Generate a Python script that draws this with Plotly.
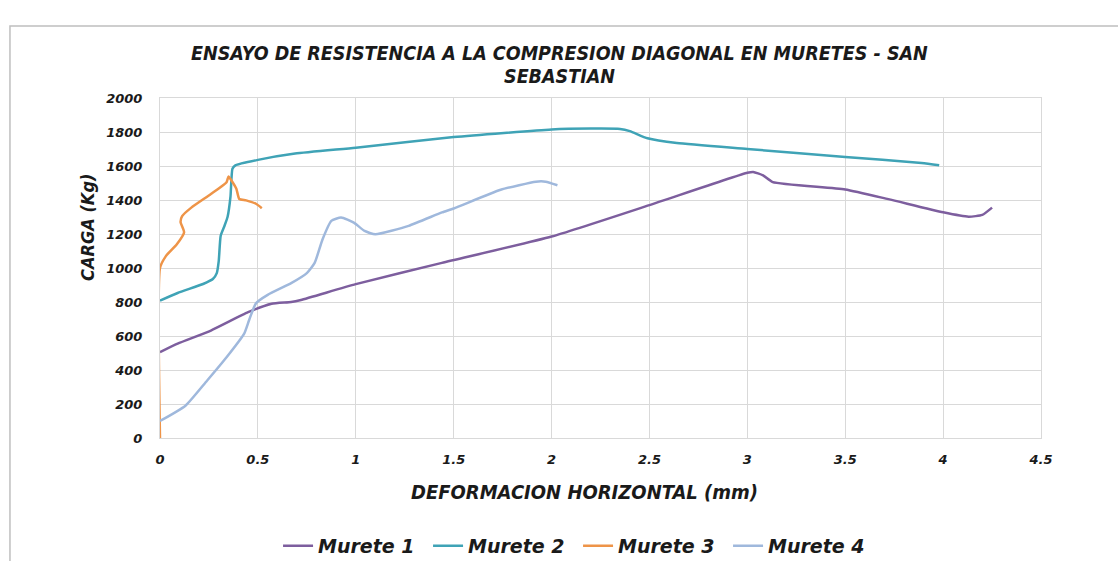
import plotly.graph_objects as go

# Load (Kg) versus horizontal deformation (mm) for each wallet specimen
m1_x = [0, 0.09, 0.26, 0.45, 0.57, 0.67, 0.72, 1.0, 1.44, 2.0, 2.5, 3.0, 3.03, 3.08, 3.13, 3.5, 3.72, 4.0, 4.13, 4.2, 4.25]
m1_y = [505, 555, 632, 740, 790, 800, 812, 905, 1030, 1185, 1370, 1560, 1565, 1545, 1505, 1462, 1405, 1328, 1302, 1312, 1355]

m2_x = [0, 0.09, 0.22, 0.27, 0.29, 0.30, 0.31, 0.33, 0.345, 0.36, 0.37, 0.385, 0.5, 0.69, 1.0, 1.5, 2.0, 2.2, 2.35, 2.40, 2.49, 2.64, 3.0, 3.5, 3.89, 3.98]
m2_y = [808, 853, 906, 935, 970, 1040, 1190, 1250, 1300, 1420, 1584, 1604, 1636, 1673, 1708, 1770, 1815, 1820, 1818, 1805, 1763, 1735, 1700, 1653, 1618, 1605]

m3_x = [0, 0, 0.03, 0.086, 0.123, 0.105, 0.113, 0.16, 0.26, 0.34, 0.35, 0.365, 0.39, 0.405, 0.44, 0.49, 0.52]
m3_y = [0, 1000, 1070, 1140, 1210, 1270, 1305, 1355, 1435, 1505, 1538, 1515, 1466, 1406, 1398, 1378, 1352]

m4_x = [0, 0.13, 0.24, 0.34, 0.43, 0.455, 0.49, 0.55, 0.67, 0.75, 0.79, 0.83, 0.875, 0.925, 0.99, 1.045, 1.1, 1.27, 1.44, 1.5, 1.74, 1.92, 1.97, 2.03]
m4_y = [100, 190, 337, 475, 614, 693, 792, 842, 911, 970, 1030, 1168, 1277, 1297, 1267, 1218, 1198, 1248, 1327, 1350, 1460, 1508, 1508, 1487]

series_names = ["Murete 1", "Murete 2", "Murete 3", "Murete 4"]
series_colors = ["#7D5E9E", "#3FA3B6", "#EE9448", "#9FB8DC"]

x_ticks = [0, 0.5, 1, 1.5, 2, 2.5, 3, 3.5, 4, 4.5]
x_tick_text = ["0", "0.5", "1", "1.5", "2", "2.5", "3", "3.5", "4", "4.5"]
y_ticks = [0, 200, 400, 600, 800, 1000, 1200, 1400, 1600, 1800, 2000]

title_lines = ["ENSAYO DE RESISTENCIA A LA COMPRESION DIAGONAL EN MURETES - SAN", "SEBASTIAN"]

narrow = "DejaVu Sans Condensed, Liberation Sans Narrow, DejaVu Sans, sans-serif"
wide = "DejaVu Sans, Verdana, sans-serif"
ink = "#1a1a1a"

fig = go.Figure()
for name, color, xs, ys in zip(series_names, series_colors,
                               [m1_x, m2_x, m3_x, m4_x], [m1_y, m2_y, m3_y, m4_y]):
    fig.add_trace(go.Scatter(
        x=xs, y=ys, name=name, mode="lines",
        line=dict(color=color, width=2.5, shape="spline", smoothing=0.5),
    ))

tick_font = dict(family=wide, size=13, color=ink, weight="bold", style="italic")


def label(text, x, y, size, angle=0):
    return dict(text=f"<b><i>{text}</i></b>", textangle=angle,
                xref="paper", yref="paper", x=x, y=y,
                xanchor="center", yanchor="middle", showarrow=False,
                font=dict(family=narrow, size=size, color=ink))


fig.update_layout(
    width=1118, height=561,
    paper_bgcolor="white", plot_bgcolor="white",
    margin=dict(l=160, r=77, t=98, b=123, autoexpand=False),
    xaxis=dict(
        range=[0, 4.5], tickvals=x_ticks, ticktext=x_tick_text,
        showgrid=True, gridcolor="#D9D9D9", gridwidth=1,
        showline=True, linecolor="#D9D9D9", mirror=True,
        zeroline=False, ticks="", ticklabelstandoff=9, automargin=False,
        tickfont=tick_font,
    ),
    yaxis=dict(
        range=[0, 2000], tickvals=y_ticks,
        showgrid=True, gridcolor="#D9D9D9", gridwidth=1,
        showline=True, linecolor="#D9D9D9", mirror=True,
        zeroline=False, ticks="", ticklabelstandoff=14, automargin=False,
        tickfont=tick_font,
    ),
    legend=dict(
        orientation="h", x=0.134, xanchor="left",
        yref="container", y=0.027, yanchor="middle",
        font=dict(family=wide, size=19, color=ink, weight="bold", style="italic"),
        itemwidth=30, tracegroupgap=0,
        entrywidth=105, entrywidthmode="pixels",
    ),
    annotations=[
        label(title_lines[0], 0.4529, 1.1315, 19.5),
        label(title_lines[1], 0.4529, 1.064, 19.5),
        label("DEFORMACION HORIZONTAL (mm)", 0.482, -0.159, 20),
        label("CARGA (Kg)", -0.0817, 0.618, 18, angle=-90),
    ],
    shapes=[dict(
        type="rect", xref="paper", yref="paper",
        x0=-0.1703, x1=1.2, y0=-0.45, y1=1.2118,
        line=dict(color="#BFBFBF", width=1.5), fillcolor="rgba(0,0,0,0)", layer="below",
    )],
)

fig.write_html("out.html")
